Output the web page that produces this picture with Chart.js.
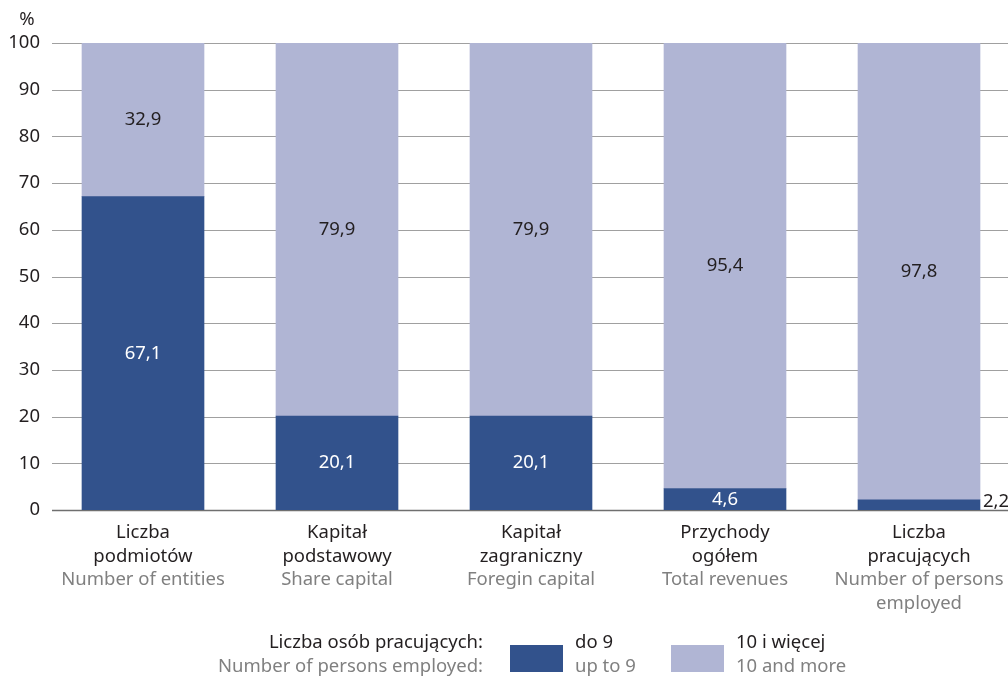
<!DOCTYPE html>
<html><head><meta charset="utf-8">
<script src="https://cdn.jsdelivr.net/npm/chart.js@4"></script>
<style>html,body{margin:0;padding:0;overflow:hidden;background:#fff;width:1008px;height:679px}canvas{display:block}</style>
</head><body>
<canvas id="c" width="1030" height="679" style="width:1030px;height:679px"></canvas>
<script>
const categoriesPL = [["Liczba","podmiotów"],["Kapitał","podstawowy"],["Kapitał","zagraniczny"],["Przychody","ogółem"],["Liczba","pracujących"]];
const categoriesEN = [["Number of entities"],["Share capital"],["Foregin capital"],["Total revenues"],["Number of persons","employed"]];
const upTo9 = [67.1, 20.1, 20.1, 4.6, 2.2];
const tenAndMore = [32.9, 79.9, 79.9, 95.4, 97.8];
const yTicks = [0,10,20,30,40,50,60,70,80,90,100];
const DARK = '#32528c', LIGHT = '#b0b5d4';
const FONT = '"Noto Sans", sans-serif';
const FS = '18.5px ';

const fmt = v => v.toFixed(1).replace('.', ',');

const custom = {
  id: 'custom',
  beforeDatasetsDraw(chart) {
    const ctx = chart.ctx, y = chart.scales.y;
    ctx.save();
    yTicks.forEach(t => {
      const py = Math.round(y.getPixelForValue(t)) + 0.5;
      ctx.strokeStyle = t === 0 ? '#6f6f6f' : '#a0a0a0';
      ctx.lineWidth = t === 0 ? 1.5 : 1;
      ctx.beginPath(); ctx.moveTo(52, py); ctx.lineTo(1030, py); ctx.stroke();
    });
    ctx.restore();
  },
  afterDatasetsDraw(chart) {
    const ctx = chart.ctx, x = chart.scales.x, y = chart.scales.y;
    ctx.save();
    ctx.font = FS + FONT;
    ctx.textBaseline = 'middle';
    chart.data.datasets.forEach((ds, di) => {
      const meta = chart.getDatasetMeta(di);
      meta.data.forEach((bar, i) => {
        const v = ds.data[i];
        const cy = (bar.y + bar.base) / 2;
        if (di === 0 && v < 3) {
          ctx.fillStyle = '#231f20'; ctx.textAlign = 'left';
          ctx.fillText(fmt(v), bar.x + bar.width / 2 + 3, cy - 3);
        } else {
          ctx.fillStyle = di === 0 ? '#ffffff' : '#231f20';
          ctx.textAlign = 'center';
          ctx.fillText(fmt(v), bar.x, cy);
        }
      });
    });
    ctx.fillStyle = '#231f20'; ctx.textAlign = 'right';
    yTicks.forEach(t => ctx.fillText(String(t), 40, y.getPixelForValue(t)));
    ctx.textAlign = 'center';
    ctx.fillText('%', 27, 20);
    categoriesPL.forEach((pl, i) => {
      const cx = x.getPixelForValue(i);
      let ly = 533;
      ctx.fillStyle = '#231f20';
      pl.forEach(l => { ctx.fillText(l, cx, ly); ly += 23.5; });
      ctx.fillStyle = '#808080';
      categoriesEN[i].forEach(l => { ctx.fillText(l, cx, ly); ly += 23.5; });
    });
    ctx.textAlign = 'right';
    ctx.fillStyle = '#231f20'; ctx.fillText('Liczba osób pracujących:', 483, 643);
    ctx.fillStyle = '#808080'; ctx.fillText('Number of persons employed:', 483, 667);
    ctx.fillStyle = DARK; ctx.fillRect(510, 645, 53, 27);
    ctx.fillStyle = LIGHT; ctx.fillRect(671, 645, 53, 27);
    ctx.textAlign = 'left';
    ctx.fillStyle = '#231f20'; ctx.fillText('do 9', 575, 643);
    ctx.fillStyle = '#808080'; ctx.fillText('up to 9', 575, 667);
    ctx.fillStyle = '#231f20'; ctx.fillText('10 i więcej', 736, 643);
    ctx.fillStyle = '#808080'; ctx.fillText('10 and more', 736, 667);
    ctx.restore();
  }
};

new Chart(document.getElementById('c'), {
  type: 'bar',
  data: {
    labels: categoriesPL.map(p => p.join(' ')),
    datasets: [
      { label: 'do 9', data: upTo9, backgroundColor: DARK, barThickness: 122 },
      { label: '10 i więcej', data: tenAndMore, backgroundColor: LIGHT, barThickness: 122 }
    ]
  },
  options: {
    responsive: false,
    animation: false,
    layout: { padding: { top: 43, bottom: 169, left: 0, right: 14 } },
    plugins: { legend: { display: false }, tooltip: { enabled: false } },
    scales: {
      x: { stacked: true, offset: true, grid: { display: false }, border: { display: false }, ticks: { display: false },
           afterFit(s) { s.height = 0; } },
      y: { stacked: true, min: 0, max: 100, grid: { display: false }, border: { display: false },
           ticks: { display: false, stepSize: 10 },
           afterFit(s) { s.width = 46; } }
    }
  },
  plugins: [custom]
});
</script>
</body></html>
